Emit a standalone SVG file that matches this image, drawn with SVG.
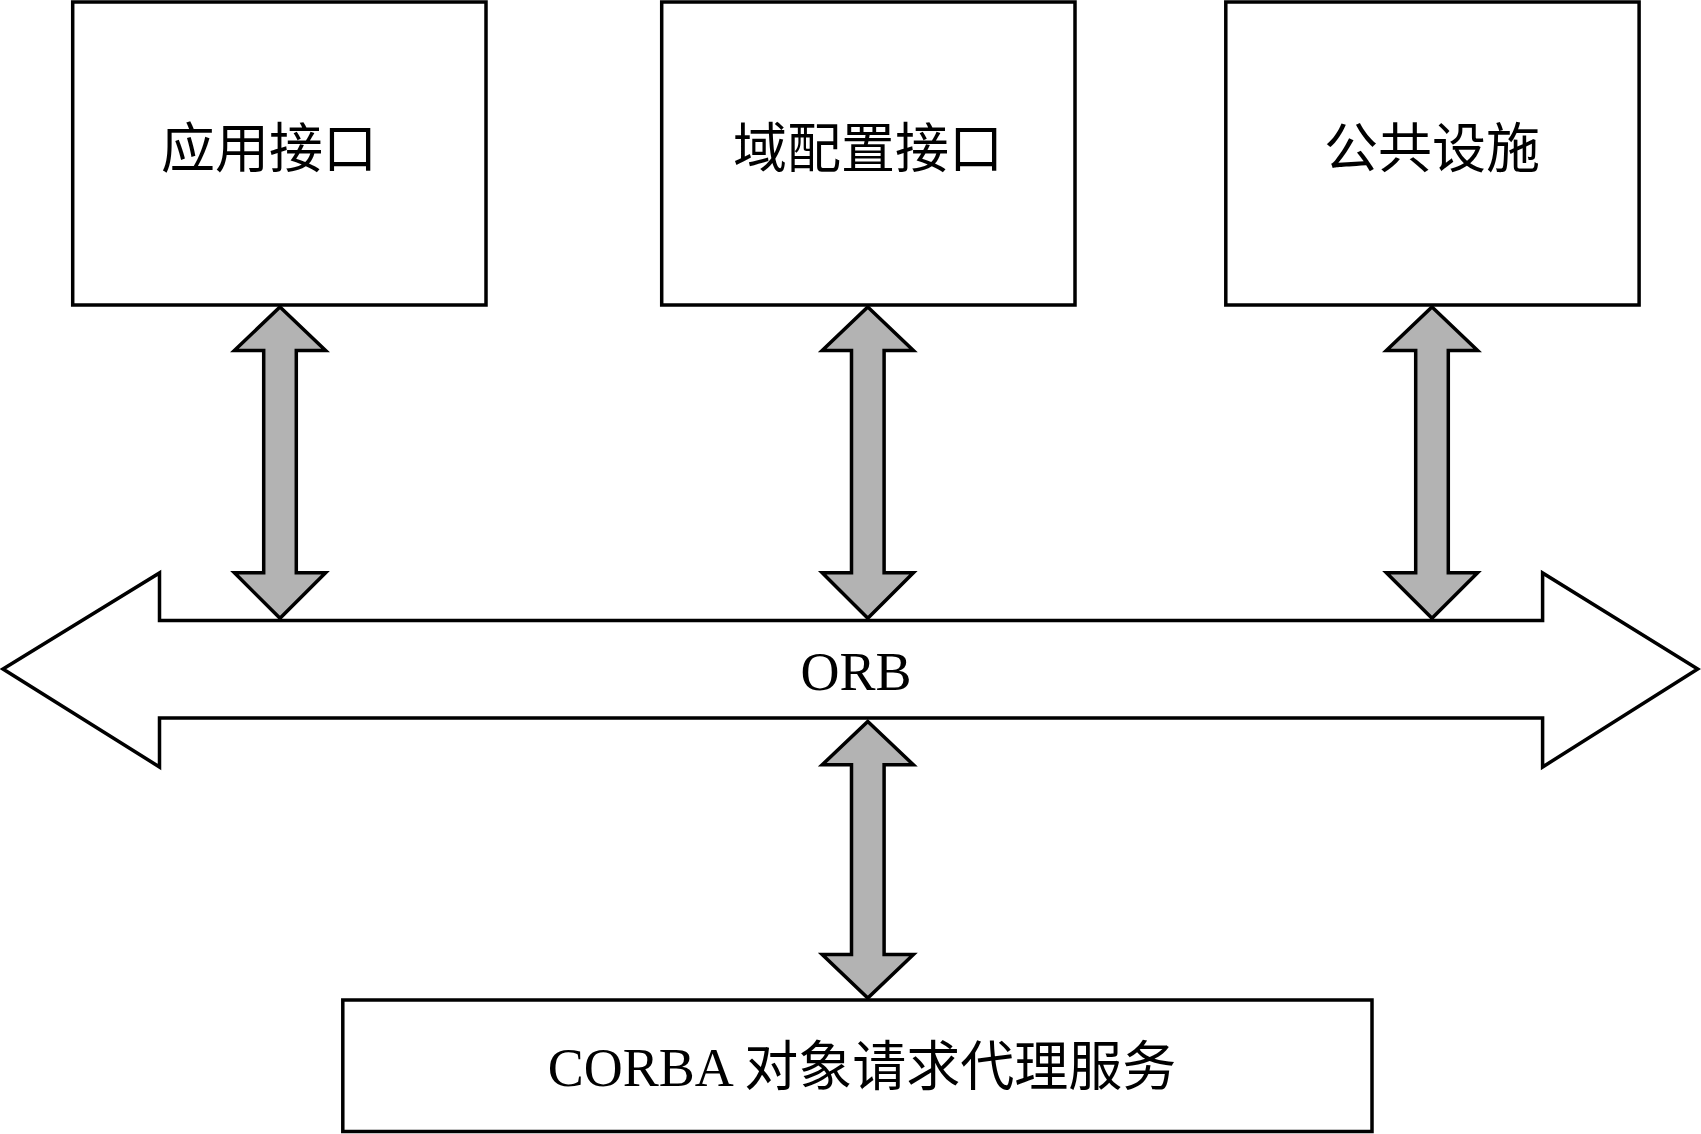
<svg xmlns="http://www.w3.org/2000/svg" width="1701" height="1134" viewBox="0 0 1701 1134">
<style>
.box{fill:#fff;stroke:#000;stroke-width:3.5}
.ar{fill:#b3b3b3;stroke:#000;stroke-width:3.5;stroke-linejoin:miter}
.t{font-family:"Liberation Serif","Noto Sans CJK SC",serif;font-size:54px;fill:#000;text-anchor:middle;dominant-baseline:central}
</style>
<rect width="1701" height="1134" fill="#fff"/>
<g id="orb">
<path class="box" d="M3,669 L159.5,573 L159.5,620.5 L1542.6,620.5 L1542.6,573 L1697.7,669 L1542.6,767 L1542.6,718 L159.5,718 L159.5,767 Z"/>
<text class="t" x="856" y="672">ORB</text>
</g>
<g id="n1"><rect class="box" x="72.7" y="2" width="413.3" height="303"/><text class="t" x="269" y="150">应用接口</text></g>
<g id="n2"><rect class="box" x="661.7" y="2" width="413.3" height="303"/><text class="t" x="868" y="150">域配置接口</text></g>
<g id="n3"><rect class="box" x="1225.8" y="2" width="413.3" height="303"/><text class="t" x="1432" y="150">公共设施</text></g>
<g id="n4"><rect class="box" x="342.8" y="1000" width="1029.2" height="131.5"/><text class="t" x="862" y="1068">CORBA 对象请求代理服务</text></g>
<g id="connectors">
<path class="ar" d="M280,307 L325.6,350.4 L296.3,350.4 L296.3,572.8 L325.6,572.8 L280,618.3 L234.4,572.8 L263.7,572.8 L263.7,350.4 L234.4,350.4 Z"/>
<path class="ar" d="M867.8,307 L913.4,350.4 L884.1,350.4 L884.1,572.8 L913.4,572.8 L867.8,618.3 L822.2,572.8 L851.5,572.8 L851.5,350.4 L822.2,350.4 Z"/>
<path class="ar" d="M1432,307 L1477.6,350.4 L1448.3,350.4 L1448.3,572.8 L1477.6,572.8 L1432,618.3 L1386.4,572.8 L1415.7,572.8 L1415.7,350.4 L1386.4,350.4 Z"/>
<path class="ar" d="M867.8,721.4 L913.4,764.8 L884.1,764.8 L884.1,954.6 L913.4,954.6 L867.8,998 L822.2,954.6 L851.5,954.6 L851.5,764.8 L822.2,764.8 Z"/>
</g>
</svg>
